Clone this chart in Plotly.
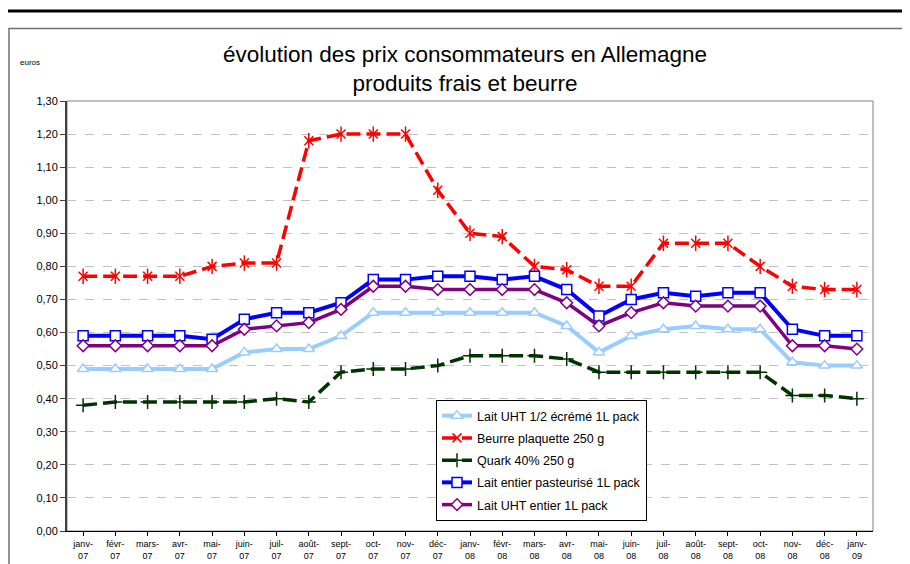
import plotly.graph_objects as go

months = ["janv-", "févr-", "mars-", "avr-", "mai-", "juin-", "juil-", "août-", "sept-", "oct-", "nov-", "déc-"]
tick_labels = [f"{m}<br>07" for m in months] + [f"{m}<br>08" for m in months] + ["janv-<br>09"]

lait_ecreme = [0.49, 0.49, 0.49, 0.49, 0.49, 0.54, 0.55, 0.55, 0.59, 0.66, 0.66, 0.66, 0.66,
               0.66, 0.66, 0.62, 0.54, 0.59, 0.61, 0.62, 0.61, 0.61, 0.51, 0.50, 0.50]
beurre = [0.77, 0.77, 0.77, 0.77, 0.80, 0.81, 0.81, 1.18, 1.20, 1.20, 1.20, 1.03, 0.90,
          0.89, 0.80, 0.79, 0.74, 0.74, 0.87, 0.87, 0.87, 0.80, 0.74, 0.73, 0.73]
quark = [0.38, 0.39, 0.39, 0.39, 0.39, 0.39, 0.40, 0.39, 0.48, 0.49, 0.49, 0.50, 0.53,
         0.53, 0.53, 0.52, 0.48, 0.48, 0.48, 0.48, 0.48, 0.48, 0.41, 0.41, 0.40]
lait_pasteurise = [0.59, 0.59, 0.59, 0.59, 0.58, 0.64, 0.66, 0.66, 0.69, 0.76, 0.76, 0.77, 0.77,
                   0.76, 0.77, 0.73, 0.65, 0.70, 0.72, 0.71, 0.72, 0.72, 0.61, 0.59, 0.59]
lait_uht_entier = [0.56, 0.56, 0.56, 0.56, 0.56, 0.61, 0.62, 0.63, 0.67, 0.74, 0.74, 0.73, 0.73,
                   0.73, 0.73, 0.69, 0.62, 0.66, 0.69, 0.68, 0.68, 0.68, 0.56, 0.56, 0.55]

x = list(range(len(tick_labels)))

DASH = "14px,6px"
series = [
    ("Lait UHT 1/2 écrémé 1L pack", lait_ecreme, "#99CCFF", "solid", "triangle-up", 4, 10, "white"),
    ("Beurre plaquette 250 g", beurre, "#FF0000", DASH, "x-thin-open", 3.5, 9, "#FF0000"),
    ("Quark 40% 250 g", quark, "#003300", DASH, "cross-thin-open", 3.5, 10, "#003300"),
    ("Lait entier pasteurisé 1L pack", lait_pasteurise, "#0000FF", "solid", "square", 4, 10, "white"),
    ("Lait UHT entier 1L pack", lait_uht_entier, "#800080", "solid", "diamond", 3.5, 9, "white"),
]

fig = go.Figure()
for name, vals, color, dash, sym, lw, ms, fill in series:
    fig.add_trace(go.Scatter(
        x=x, y=vals, name=name, mode="lines+markers", legendgroup=name,
        line=dict(color=color, width=lw, dash=dash),
        marker=dict(symbol=sym, size=ms, color=fill,
                    line=dict(color=color, width=1.5)),
    ))
    if name.startswith("Beurre"):
        fig.add_trace(go.Scatter(
            x=x, y=vals, name=name, mode="markers", legendgroup=name, showlegend=False,
            marker=dict(symbol="line-ns-open", size=11, color=color,
                        line=dict(color=color, width=1.5)),
        ))

# page body adds an 8px offset; work in screen pixels
OFF = 8
W, H = 902, 556
L, T = 67 - OFF, 101 - OFF
R = W - (873 - OFF)
B = H - (531 - OFF)
pw, ph = W - L - R, H - T - B

def px(xs):
    return (xs - OFF - L) / pw

def py(ys):
    return (H - B - (ys - OFF)) / ph

fig.update_layout(
    width=W, height=H,
    margin=dict(l=L, r=R, t=T, b=B, autoexpand=False),
    paper_bgcolor="white", plot_bgcolor="white",
    separators=", ",
    font=dict(family="Liberation Sans, Arial, sans-serif", color="black"),
    title=dict(text="évolution des prix consommateurs en Allemagne<br>produits frais et beurre",
               x=px(465), xref="paper", xanchor="center",
               y=1 - (62 - OFF) / H, yanchor="middle",
               font=dict(size=22.5, color="black")),
    showlegend=True,
    legend=dict(x=px(436), y=py(400), xanchor="left", yanchor="top",
                bordercolor="black", borderwidth=1, bgcolor="white",
                font=dict(size=12.5), tracegroupgap=3, itemwidth=30),
    xaxis=dict(tickmode="array", tickvals=x, ticktext=tick_labels,
               range=[-0.5, len(x) - 0.5], tickangle=0, automargin=False,
               tickfont=dict(size=9), ticks="outside", ticklen=4,
               tickson="boundaries", tickcolor="black",
               showline=True, linecolor="black", linewidth=1,
               showgrid=False, zeroline=False),
    yaxis=dict(range=[0, 1.3], dtick=0.1, tickformat=".2f", automargin=False,
               tickfont=dict(size=11), ticks="outside", ticklen=5, tickcolor="#404040",
               showline=True, linecolor="#404040", linewidth=2,
               showgrid=True, gridcolor="#C0C0C0", griddash="dash", gridwidth=1,
               zeroline=False),
    shapes=[
        dict(type="rect", xref="paper", yref="paper", x0=0, x1=1, y0=0, y1=1,
             line=dict(color="#808080", width=1), layer="below"),
        dict(type="rect", xref="paper", yref="paper", x0=px(9), x1=px(930), y0=py(28.5), y1=py(600),
             line=dict(color="#707070", width=1.5)),
        dict(type="line", xref="paper", yref="paper", x0=px(0), x1=px(920), y0=py(11), y1=py(11),
             line=dict(color="black", width=3)),
    ],
    annotations=[
        dict(text="euros", xref="paper", yref="paper", x=px(18), y=py(62),
             xanchor="left", yanchor="middle", showarrow=False, font=dict(size=8)),
    ],
)

fig.write_html("out.html")
